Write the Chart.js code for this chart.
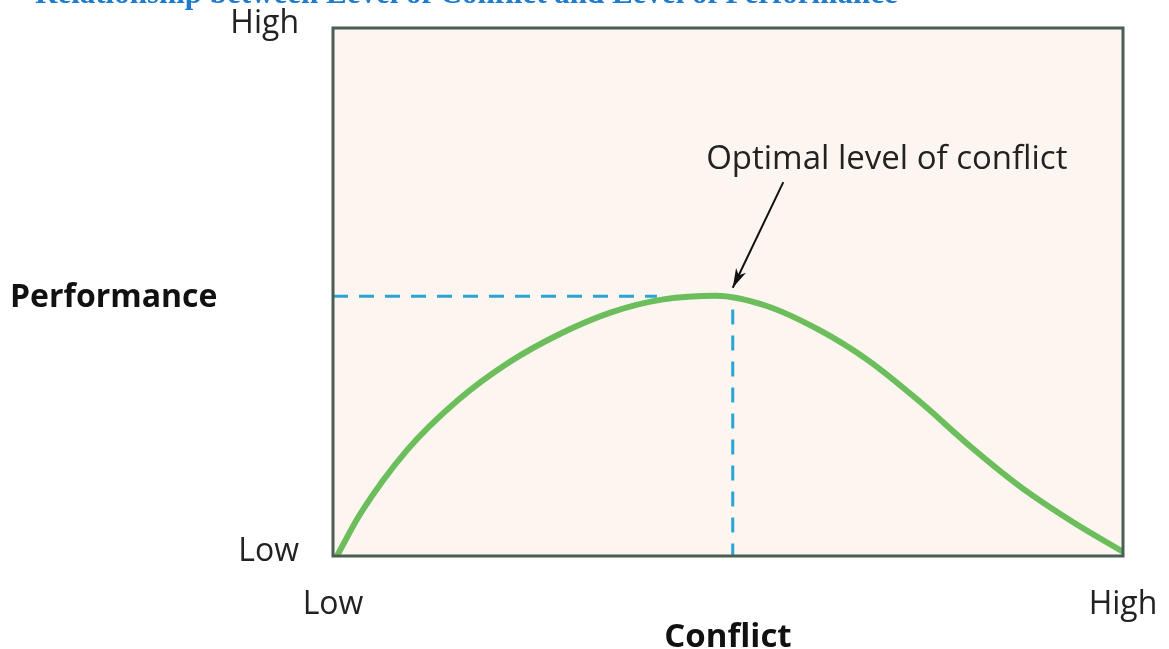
<!DOCTYPE html>
<html>
<head>
<meta charset="utf-8">
<script src="https://cdn.jsdelivr.net/npm/chart.js@4.4.1/dist/chart.umd.min.js"></script>
<style>
  html, body { margin:0; background:#fff; }
  #wrap { width:1169px; height:649px; }
</style>
</head>
<body>
<div id="wrap"><canvas id="c" width="1169" height="649"></canvas></div>
<script>
// Data (0..100 on both axes)
const conflictX    = [0.5, 3.5, 9.4, 15.8, 22.3, 28.9, 35.3, 41.8, 48.5, 54.8, 61.3, 67.7, 74.3, 80.8, 87.2, 93.8, 100];
const performanceY = [0,   8.1, 20.1, 29.5, 36.7, 42.2, 46.2, 48.6, 49.3, 47.4, 43.0, 37.1, 29.2, 20.6, 12.9, 6.3, 0.8];
const optimumX = 50.6;
const optimumY = 49.2;
const levelLabels = ['Low', 'High'];
const titleText = 'Relationship between Level of Conflict and Level of Performance';
const noteText  = 'Optimal level of conflict';

const SANS = '"Open Sans", "Noto Sans", sans-serif';

// plot box: background + dark frame
const framePlugin = {
  id: 'frame',
  beforeDatasetsDraw(chart) {
    const { ctx, chartArea: a } = chart;
    ctx.save();
    ctx.fillStyle = '#fdf6f0';
    ctx.fillRect(a.left, a.top, a.right - a.left, a.bottom - a.top);
    ctx.restore();
  },
  afterDatasetsDraw(chart) {
    const { ctx, chartArea: a } = chart;
    ctx.save();
    ctx.strokeStyle = '#4b5e54';
    ctx.lineWidth = 3;
    ctx.strokeRect(a.left, a.top, a.right - a.left, a.bottom - a.top);
    ctx.restore();
  }
};

// extra text: cut-off title, horizontal "Performance", arrow note
const textPlugin = {
  id: 'texts',
  afterDraw(chart) {
    const { ctx, scales: { x, y } } = chart;
    ctx.save();
    ctx.fillStyle = '#1f7ccc';
    ctx.font = 'bold 31px "Liberation Serif", serif';
    ctx.textAlign = 'left';
    ctx.textBaseline = 'alphabetic';
    ctx.fillText(titleText, 35, 3);

    ctx.fillStyle = '#111';
    ctx.font = 'bold 32px ' + SANS;
    ctx.textBaseline = 'middle';
    ctx.fillText('Performance', 10, 298);

    ctx.font = '33px ' + SANS;
    ctx.fillStyle = '#222';
    ctx.textAlign = 'center';
    ctx.fillText(noteText, x.getPixelForValue(70.1), y.getPixelForValue(75.0));

    // arrow
    const x0 = x.getPixelForValue(57.0), y0 = y.getPixelForValue(70.8);
    const x1 = x.getPixelForValue(50.6), y1 = y.getPixelForValue(50.8);
    ctx.strokeStyle = '#111';
    ctx.lineWidth = 2;
    ctx.beginPath(); ctx.moveTo(x0, y0); ctx.lineTo(x1, y1); ctx.stroke();
    const ang = Math.atan2(y1 - y0, x1 - x0);
    ctx.fillStyle = '#111';
    ctx.beginPath();
    ctx.moveTo(x1, y1);
    ctx.lineTo(x1 - 20 * Math.cos(ang - 0.28), y1 - 20 * Math.sin(ang - 0.28));
    ctx.lineTo(x1 - 14 * Math.cos(ang), y1 - 14 * Math.sin(ang));
    ctx.lineTo(x1 - 20 * Math.cos(ang + 0.28), y1 - 20 * Math.sin(ang + 0.28));
    ctx.closePath(); ctx.fill();
    ctx.restore();
  }
};

const pts = conflictX.map((v, i) => ({ x: v, y: performanceY[i] }));

new Chart(document.getElementById('c'), {
  type: 'scatter',
  data: {
    datasets: [
      {
        label: 'Performance',
        data: pts,
        showLine: true,
        borderColor: '#6cbd5c',
        borderWidth: 6,
        pointRadius: 0,
        cubicInterpolationMode: 'monotone',
        order: 0
      },
      {
        label: 'opt-h',
        data: [{ x: 0, y: optimumY }, { x: 41, y: optimumY }],
        showLine: true,
        borderColor: '#28a5d3',
        borderWidth: 3,
        borderDash: [15, 11],
        pointRadius: 0,
        order: 1
      },
      {
        label: 'opt-v',
        data: [{ x: optimumX, y: optimumY - 2.5 }, { x: optimumX, y: 0 }],
        showLine: true,
        borderColor: '#28a5d3',
        borderWidth: 3,
        borderDash: [15, 11],
        pointRadius: 0,
        order: 1
      }
    ]
  },
  options: {
    responsive: false,
    animation: false,
    layout: { padding: { top: 28, right: 46, left: 0, bottom: 0 } },
    plugins: { legend: { display: false }, tooltip: { enabled: false }, title: { display: false } },
    scales: {
      x: {
        type: 'linear', min: 0, max: 100,
        grid: { display: false },
        border: { display: false },
        afterBuildTicks: s => { s.ticks = [{ value: 0 }, { value: 100 }]; },
        afterFit: s => { s.height = 93; s.paddingLeft = 0; s.paddingRight = 0; },
        ticks: {
          padding: 22,
          color: '#222',
          font: { family: SANS, size: 32 },
          maxRotation: 0,
          callback: v => levelLabels[v === 0 ? 0 : 1]
        },
        title: {
          display: true, text: 'Conflict', color: '#111',
          font: { family: SANS, size: 33, weight: 'bold' },
          padding: { top: 0, bottom: -8 }
        }
      },
      y: {
        type: 'linear', min: 0, max: 100,
        grid: { display: false },
        border: { display: false },
        afterBuildTicks: s => { s.ticks = [{ value: 0 }, { value: 100 }]; },
        afterFit: s => { s.width = 333; s.paddingTop = 0; s.paddingBottom = 0; },
        ticks: {
          padding: 26,
          labelOffset: -4,
          color: '#222',
          font: { family: SANS, size: 32 },
          callback: v => levelLabels[v === 0 ? 0 : 1]
        }
      }
    }
  },
  plugins: [framePlugin, textPlugin]
});
</script>
</body>
</html>
